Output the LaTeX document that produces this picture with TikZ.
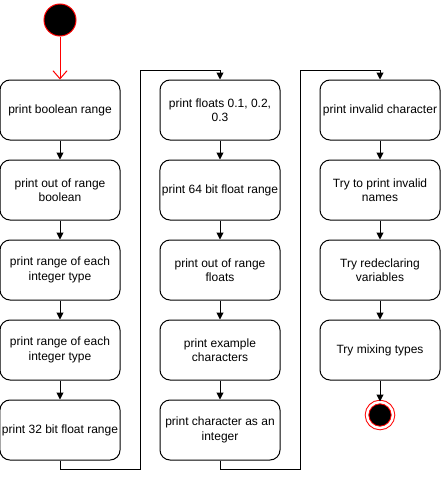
\documentclass[tikz,border=0pt]{standalone}
\usepackage{fontspec}
\setmainfont{Liberation Sans}
\usetikzlibrary{positioning,arrows.meta}

\begin{document}
\begin{tikzpicture}[x=1pt,y=-1pt,node distance=19pt,line width=1pt,
  every node/.style={font=\fontsize{12}{14.5}\selectfont},
  act/.style={draw,rounded corners=10pt,minimum width=120pt,minimum height=60pt,align=center,inner sep=2pt},
  flow/.style={-{Triangle[length=7pt,width=7pt]}}]
\useasboundingbox (0,0) rectangle (441,479);

\node[circle,draw=red,fill=black,minimum size=32pt,inner sep=0] (start) at (60,20) {};

% first column
\node[act] (boolrange) at (60,110) {print boolean range};
\node[act,below=of boolrange] (boolout) {print out of range\\boolean};
\node[act,below=of boolout] (intrange) {print range of each\\integer type};
\node[act,below=of intrange] (intrange-1) {print range of each\\integer type};
\node[act,below=of intrange-1] (f32) {print 32 bit float range};

% second column
\node[act] (floats) at (220,110) {print floats 0.1, 0.2,\\0.3};
\node[act,below=of floats] (f64) {print 64 bit float range};
\node[act,below=of f64] (floatout) {print out of range\\floats};
\node[act,below=of floatout] (chars) {print example\\characters};
\node[act,below=of chars] (charint) {print character as an\\integer};

% third column
\node[act] (invchar) at (380,110) {print invalid character};
\node[act,below=of invchar] (invnames) {Try to print invalid\\names};
\node[act,below=of invnames] (redecl) {Try redeclaring\\variables};
\node[act,below=of redecl] (mixing) {Try mixing types};

\node[circle,draw=red,fill=black,double=white,double distance=2.5pt,minimum size=26pt,inner sep=0] (end) at (380,415) {};

\coordinate (bend1) at (140,70);
\coordinate (bend2) at (300,70);

\draw[red,-{Straight Barb[length=8pt,width=14pt]}] (start) -- (boolrange);
\draw[flow] (boolrange) -- (boolout);
\draw[flow] (boolout) -- (intrange);
\draw[flow] (intrange) -- (intrange-1);
\draw[flow] (intrange-1) -- (f32);
\draw[flow] (f32.south) -- ++(0,9) -| (bend1) -| (floats.north);
\draw[flow] (floats) -- (f64);
\draw[flow] (f64) -- (floatout);
\draw[flow] (floatout) -- (chars);
\draw[flow] (chars) -- (charint);
\draw[flow] (charint.south) -- ++(0,9) -| (bend2) -| (invchar.north);
\draw[flow] (invchar) -- (invnames);
\draw[flow] (invnames) -- (redecl);
\draw[flow] (redecl) -- (mixing);
\draw[flow] (mixing) -- (end);
\end{tikzpicture}
\end{document}
